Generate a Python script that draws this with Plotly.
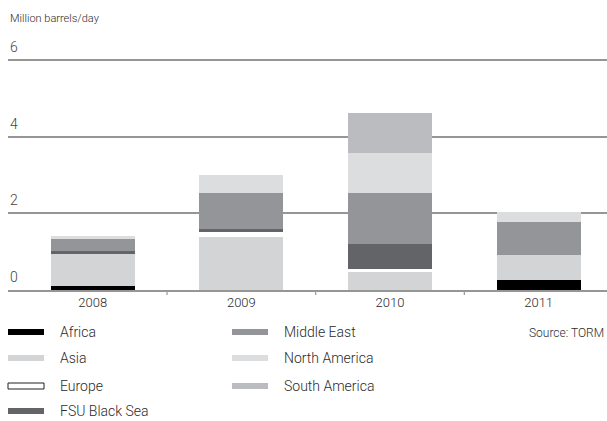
import plotly.graph_objects as go

# Oil product export volumes by region, million barrels/day
years = ["2008", "2009", "2010", "2011"]
africa = [0.10, 0.0, 0.0, 0.27]
asia = [0.83, 1.37, 0.47, 0.63]
europe = [0.0, 0.13, 0.09, 0.0]
fsu_black_sea = [0.10, 0.08, 0.65, 0.0]
middle_east = [0.29, 0.94, 1.33, 0.88]
north_america = [0.08, 0.47, 1.04, 0.25]
south_america = [0.0, 0.0, 1.04, 0.0]

y_ticks = [0, 2, 4, 6]
y_tick_labels = ["0", "2", "4", "6"]

series = [
    ("Africa", africa, "#000000"),
    ("Asia", asia, "#d3d4d6"),
    ("Europe", europe, "#ffffff"),
    ("FSU Black Sea", fsu_black_sea, "#636467"),
    ("Middle East", middle_east, "#949598"),
    ("North America", north_america, "#dcdddf"),
    ("South America", south_america, "#bbbcbf"),
]

W, H = 607, 421
ML, MR, MT, MB = 8, 0, 58, 131
PW, PH = W - ML - MR, H - MT - MB
FONT = "Roboto"
TEXT = "#2b2b2b"
GRID = "#969696"


def px_x(px):
    return (px - ML) / PW


def px_y(py):
    return (H - MB - py) / PH


xpos = list(range(len(years)))

fig = go.Figure()
for name, vals, color in series:
    fig.add_trace(go.Bar(
        x=xpos, y=vals, name=name, width=0.565,
        marker=dict(color=color, line=dict(width=0)),
        showlegend=False,
    ))

shapes = []
annotations = []

# Boundary tick marks between categories
for b in [0.5, 1.5, 2.5]:
    shapes.append(dict(type="line", xref="x", yref="paper", x0=b, x1=b,
                       y0=0, y1=-5 / PH, line=dict(color=GRID, width=1.2)))

# Y tick labels sitting above each gridline
for v, lab in zip(y_ticks, y_tick_labels):
    annotations.append(dict(x=0, xref="paper", y=v, yref="y", text=lab,
                            showarrow=False, xanchor="left", yanchor="middle",
                            yshift=13,
                            font=dict(family=FONT, size=14, color="#444444", weight=300)))

# Axis title
annotations.append(dict(x=px_x(8), y=px_y(19), xref="paper", yref="paper",
                        text="Million barrels/day", showarrow=False,
                        xanchor="left", yanchor="middle",
                        font=dict(family=FONT, size=11, color=TEXT, weight=300)))

# Legend drawn as swatches and labels
legend_layout = [
    ("Africa", 8, 332), ("Asia", 8, 358), ("Europe", 8, 386), ("FSU Black Sea", 8, 411),
    ("Middle East", 232, 332), ("North America", 232, 358), ("South America", 232, 386),
]
colors = {n: c for n, _, c in series}
for name, sx, sy in legend_layout:
    line = dict(width=0)
    if name == "Europe":
        line = dict(color="#231f20", width=1)
    shapes.append(dict(type="rect", xref="paper", yref="paper",
                       x0=px_x(sx), x1=px_x(sx + 36), y0=px_y(sy - 3), y1=px_y(sy + 3),
                       fillcolor=colors[name], line=line))
    annotations.append(dict(x=px_x(sx + 50), y=px_y(sy), xref="paper", yref="paper",
                            text=name, showarrow=False, xanchor="left", yanchor="middle",
                            font=dict(family=FONT, size=14, color=TEXT, weight=300)))

annotations.append(dict(x=px_x(606), y=px_y(333), xref="paper", yref="paper",
                        text="Source: TORM", showarrow=False, xanchor="right",
                        yanchor="middle",
                        font=dict(family=FONT, size=12, color=TEXT, weight=300)))

fig.update_layout(
    width=W, height=H,
    margin=dict(l=ML, r=MR, t=MT, b=MB, pad=0),
    barmode="stack",
    plot_bgcolor="white", paper_bgcolor="white",
    shapes=shapes, annotations=annotations,
    xaxis=dict(range=[-0.57, 3.46], tickvals=xpos, ticktext=years,
               showgrid=False, zeroline=False, showline=True,
               linecolor=GRID, linewidth=1.5, ticks="", ticklen=0,
               tickfont=dict(family=FONT, size=13, color=TEXT, weight=300)),
    yaxis=dict(range=[0, 6.05], tickvals=y_ticks, showticklabels=False,
               showgrid=True, gridcolor=GRID, gridwidth=1.5,
               zeroline=False, showline=False, ticks=""),
)

fig.write_html("out.html")
